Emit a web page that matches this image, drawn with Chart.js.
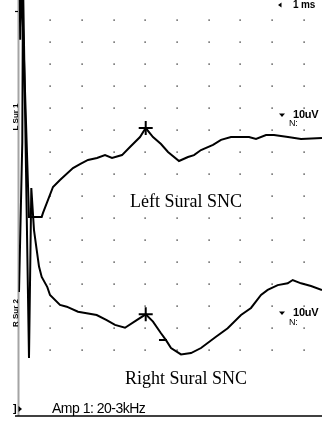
<!DOCTYPE html>
<html>
<head>
<meta charset="utf-8">
<script src="https://cdn.jsdelivr.net/npm/chart.js@4/dist/chart.umd.min.js"></script>
<style>
  html, body { margin: 0; padding: 0; background: #fff; overflow: hidden; }
  #wrap { width: 322px; height: 431px; position: relative; }
</style>
</head>
<body>
<div id="wrap"><canvas id="c"></canvas></div>
<script>
// time in ms, amplitude in uV (10 uV per division, 1 ms per division)
const leftTime = [0.035, 0.054, 0.095, 0.331, 0.732, 0.773, 1.088, 1.309, 1.719, 1.940, 2.192, 2.476, 2.729, 2.950, 3.265, 3.517, 3.833, 4.013, 4.243, 4.495, 4.716, 5.063, 5.347, 5.536, 5.757, 6.136, 6.388, 6.703, 7.271, 7.492, 7.808, 8.060, 8.502, 8.912, 9.574];
const leftAmp  = [178, 151, 178, 70.5, 70.5, 72.3, 84.1, 87.3, 92.7, 94.5, 96.4, 97.3, 98.6, 97.3, 98.6, 102.3, 106.8, 110.9, 106.8, 103.6, 100.0, 95.9, 97.7, 98.6, 100.9, 103.2, 105.5, 106.8, 106.8, 105.9, 107.7, 107.7, 106.8, 105.9, 106.4];

const rightTime = [0.016, 0.120, 0.142, 0.331, 0.404, 0.489, 0.574, 0.647, 0.732, 0.909, 0.994, 1.309, 1.521, 1.877, 2.151, 2.467, 2.782, 3.044, 3.360, 3.729, 4.013, 4.243, 4.495, 4.653, 4.811, 5.126, 5.442, 5.757, 6.230, 6.599, 7.019, 7.334, 7.650, 7.861, 8.177, 8.492, 8.650, 8.912, 9.227, 9.574];
const rightAmp  = [36.4, 104.7, 178, 6.4, 83.6, 64.5, 55.5, 47.9, 43.2, 38.6, 35.0, 30.5, 29.7, 27.4, 26.7, 25.9, 23.6, 21.4, 20.1, 23.6, 26.2, 22.9, 17.6, 14.5, 10.9, 8.0, 8.6, 10.9, 16.0, 19.9, 25.9, 29.1, 35.0, 37.3, 39.5, 40.3, 41.8, 40.3, 39.1, 37.3];

// cursor marks
const peakTime = [4.013, 4.013];
const peakAmp  = [110.9, 26.2];
const dashTime = [4.558];
const dashAmp  = [14.5];

const gridTimes = [1, 2, 3, 4, 5, 6, 7, 8, 9];
const gridAmps  = [10, 20, 30, 40, 50, 60, 70, 80, 90, 100, 110, 120, 130, 140, 150, 160];

const traceLabels = ['Left Sural SNC', 'Right Sural SNC'];
const gainLabel = '10uV';
const sweepLabel = '1 ms';
const ampLabel = 'Amp 1: 20-3kHz';

function pts(xs, ys)
{
	return xs.map(function(x, i) { return { x: x, y: ys[i] }; });
}

const decor = {
	id: 'decor',
	beforeDatasetsDraw(chart)
	{
		const ctx = chart.ctx;
		const xs = chart.scales.x, ys = chart.scales.y;
		const a = chart.chartArea;
		ctx.save();
		// dot grid
		ctx.fillStyle = '#000';
		gridTimes.forEach(function(t)
		{
			gridAmps.forEach(function(v)
			{
				ctx.fillRect(Math.round(xs.getPixelForValue(t)) - 0.5, Math.round(ys.getPixelForValue(v)) - 0.5, 1.2, 1.2);
			});
		});
		// left axis
		ctx.fillStyle = '#a4a4a4';
		ctx.fillRect(a.left - 1, a.top, 2, a.bottom - a.top);
		ctx.restore();
	},
	afterDraw(chart)
	{
		const ctx = chart.ctx;
		const a = chart.chartArea;
		ctx.save();
		// bottom line
		ctx.strokeStyle = '#000';
		ctx.lineWidth = 1.5;
		ctx.beginPath();
		ctx.moveTo(15, a.bottom);
		ctx.lineTo(a.right, a.bottom);
		ctx.stroke();
		// top tick
		ctx.lineWidth = 1.2;
		ctx.beginPath();
		ctx.moveTo(15, 11.5);
		ctx.lineTo(18, 11.5);
		ctx.stroke();

		ctx.fillStyle = '#000';
		// serif trace names
		ctx.font = '18px "Liberation Serif", "DejaVu Serif", serif';
		ctx.textAlign = 'center';
		ctx.textBaseline = 'middle';
		ctx.fillText(traceLabels[0], 186, 202);
		ctx.fillText(traceLabels[1], 186, 379);

		// sweep and gain
		ctx.font = 'bold 10px "Liberation Sans", Arial, sans-serif';
		ctx.textAlign = 'left';
		ctx.letterSpacing = '-0.2px';
		ctx.fillText(sweepLabel, 293, 5);
		tri(ctx, 280, 5, 'left');
		ctx.font = 'bold 11px "Liberation Sans", Arial, sans-serif';
		ctx.fillText(gainLabel, 293, 115);
		tri(ctx, 282, 115, 'down');
		ctx.font = '9px "Liberation Sans", Arial, sans-serif';
		ctx.fillText('N:', 289, 124);
		ctx.font = 'bold 11px "Liberation Sans", Arial, sans-serif';
		ctx.fillText(gainLabel, 293, 313);
		tri(ctx, 282, 313, 'down');
		ctx.font = '9px "Liberation Sans", Arial, sans-serif';
		ctx.fillText('N:', 289, 323);

		// amplifier
		ctx.font = '14px "Liberation Sans", Arial, sans-serif';
		ctx.letterSpacing = '-0.5px';
		ctx.fillText(ampLabel, 52, 409);
		ctx.letterSpacing = '0px';
		ctx.font = 'bold 11px "Liberation Sans", Arial, sans-serif';
		ctx.fillText(']', 13, 409);
		tri(ctx, 20, 409, 'right');

		// rotated channel tags
		ctx.font = 'bold 8px "Liberation Sans", Arial, sans-serif';
		ctx.textAlign = 'center';
		[[16, 117, 'L Sur 1'], [16, 313, 'R Sur 2']].forEach(function(r)
		{
			ctx.save();
			ctx.translate(r[0], r[1]);
			ctx.rotate(-Math.PI / 2);
			ctx.fillText(r[2], 0, 0);
			ctx.restore();
		});
		ctx.restore();
	}
};

function tri(ctx, x, y, dir)
{
	ctx.beginPath();
	if (dir === 'left') { ctx.moveTo(x - 2, y); ctx.lineTo(x + 1.5, y - 2.5); ctx.lineTo(x + 1.5, y + 2.5); }
	else if (dir === 'right') { ctx.moveTo(x + 2, y); ctx.lineTo(x - 1.5, y - 3); ctx.lineTo(x - 1.5, y + 3); }
	else { ctx.moveTo(x - 3, y - 1.5); ctx.lineTo(x + 3, y - 1.5); ctx.lineTo(x, y + 2); }
	ctx.closePath();
	ctx.fill();
}

const chart = new Chart(document.getElementById('c'), {
	type: 'scatter',
	data: {
		datasets: [
			{ data: pts(leftTime, leftAmp), showLine: true, borderColor: '#000', borderWidth: 2, pointRadius: 0, tension: 0 },
			{ data: pts(rightTime, rightAmp), showLine: true, borderColor: '#000', borderWidth: 2, pointRadius: 0, tension: 0 },
			{ data: pts(peakTime, peakAmp), pointStyle: 'cross', pointRadius: 7, borderColor: '#000', borderWidth: 2, backgroundColor: '#000' },
			{ data: pts(dashTime, dashAmp), pointStyle: 'line', pointRadius: 4, borderColor: '#000', borderWidth: 2 }
		]
	},
	options: {
		responsive: true,
		maintainAspectRatio: false,
		animation: false,
		events: [],
		layout: { autoPadding: false, padding: { left: 18.5, right: 0, top: 0, bottom: 15 } },
		plugins: { legend: { display: false }, tooltip: { enabled: false } },
		scales: {
			x: { type: 'linear', display: false, min: 0, max: 9.574 },
			y: { type: 'linear', display: false, min: -20, max: 169.09 }
		}
	},
	plugins: [decor]
});
</script>
</body>
</html>
